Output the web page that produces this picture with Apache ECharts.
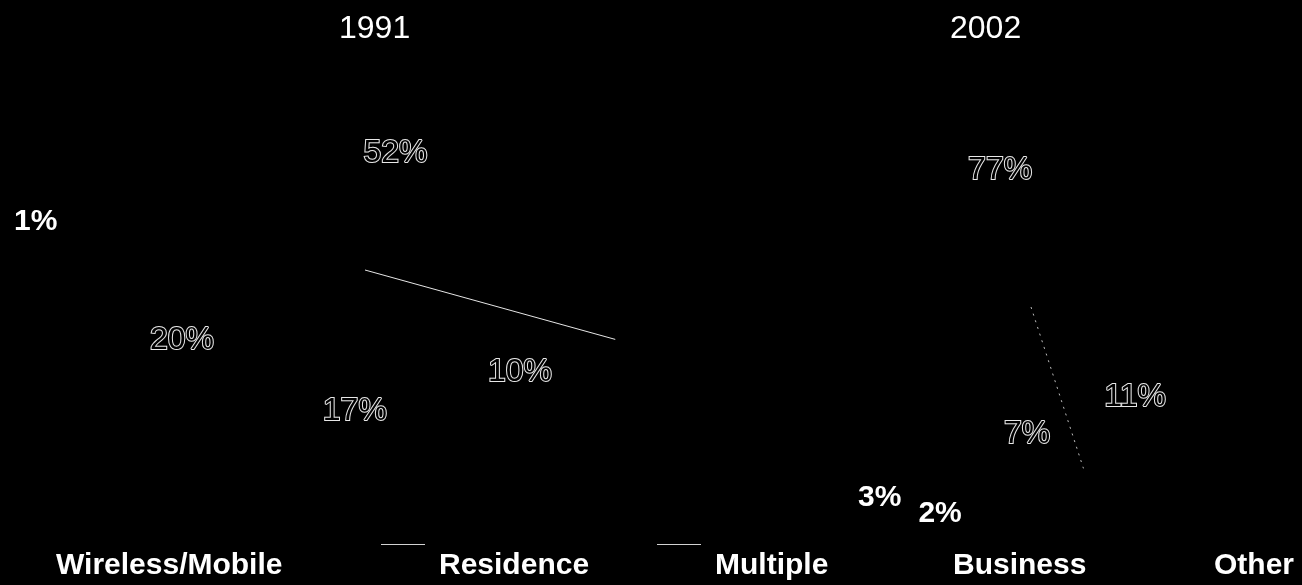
<!DOCTYPE html>
<html>
<head>
<meta charset="utf-8">
<script src="https://cdn.jsdelivr.net/npm/echarts@6/dist/echarts.min.js"></script>
<style>
  html, body { margin: 0; padding: 0; background: #000; }
  #chart { width: 1302px; height: 585px; }
</style>
</head>
<body>
<div id="chart"></div>
<script>
// ---- data ----
const categories = ['Wireless/Mobile', 'Residence', 'Multiple', 'Business', 'Other'];
const years = ['1991', '2002'];
const share1991 = [52, 10, 17, 20, 1];
const share2002 = [77, 11, 7, 2, 3];

// ---- layout & style ----
const FONT = '"Liberation Sans", Arial, sans-serif';
const pieLayout = [
  { values: share1991, center: [365, 270], radius: 260, startAngle: 171.7, titleLeft: 339,
    edgeAfter: 0, edgeStyle: { color: '#e6e6e6', width: 1, type: 'solid' },
    // [distance as fraction of radius, angular shift in degrees] for each label
    labelPlace: [[0.465, 2.7], [0.715, 0], [0.546, 12], [0.754, 10.3], [1.28, 1.8]] },
  { values: share2002, center: [1031, 307], radius: 170, startAngle: 244.8, titleLeft: 950,
    edgeAfter: 1, edgeStyle: { color: '#bdbdbd', width: 1, type: [2, 5] },
    labelPlace: [[0.826, 3.5], [0.81, -11.3], [0.747, 7.2], [1.33, 12.9], [1.43, 18.7]] }
];
const legendLeft = [-2, 381, 657, 895, 1156];
const legendLineIcon = [false, true, true, false, false];
const LINE_ICON = 'path://M0,0H44V1H0Z M52.99,43H53V44H52.99Z';

const outlineLabel = {
  color: '#000', textBorderColor: '#e8e8e8', textBorderWidth: 2,
  fontSize: 32, fontFamily: FONT, fontWeight: 'normal'
};
const boldLabel = {
  color: '#fff', textBorderWidth: 0,
  fontSize: 30, fontFamily: FONT, fontWeight: 'bold'
};

const chart = echarts.init(document.getElementById('chart'), null, { renderer: 'canvas' });

function makeLabelLayout(cfg) {
  const vals = cfg.values;
  const total = vals.reduce((a, b) => a + b, 0);
  const startScreen = 360 - cfg.startAngle; // clockwise from east, y down
  return function (params) {
    const i = params.dataIndex;
    let before = 0;
    for (let k = 0; k < i; k++) before += vals[k];
    const mid = startScreen + (before + vals[i] / 2) / total * 360 + cfg.labelPlace[i][1];
    const d = cfg.labelPlace[i][0] * cfg.radius;
    const a = mid * Math.PI / 180;
    const tx = cfg.center[0] + d * Math.cos(a);
    const ty = cfg.center[1] + d * Math.sin(a);
    const r = params.labelRect;
    return { dx: tx - (r.x + r.width / 2), dy: ty - (r.y + r.height / 2) };
  };
}

const series = [];
const polar = [];
const angleAxis = [];
const radiusAxis = [];
const titles = [];

pieLayout.forEach((cfg, p) => {
  series.push({
    type: 'pie',
    center: cfg.center,
    radius: cfg.radius,
    startAngle: cfg.startAngle,
    clockwise: true,
    avoidLabelOverlap: false,
    animation: false,
    silent: true,
    label: { show: true, position: 'inside', formatter: (q) => q.value + '%' },
    labelLine: { show: false },
    labelLayout: makeLabelLayout(cfg),
    itemStyle: { color: '#000', borderWidth: 0 },
    data: categories.map((name, i) => ({
      name: name,
      value: cfg.values[i],
      itemStyle: { color: '#000' },
      label: cfg.values[i] < 5 ? boldLabel : outlineLabel
    }))
  });

  // slice edge drawn on a polar frame sharing the pie's geometry
  let cum = 0;
  for (let k = 0; k <= cfg.edgeAfter; k++) cum += cfg.values[k];
  polar.push({ center: cfg.center, radius: cfg.radius });
  angleAxis.push({ polarIndex: p, type: 'value', min: 0, max: 100, startAngle: cfg.startAngle,
                   clockwise: true, show: false });
  radiusAxis.push({ polarIndex: p, type: 'value', min: 0, max: 1, show: false });
  series.push({
    type: 'line',
    coordinateSystem: 'polar',
    polarIndex: p,
    symbol: 'none',
    animation: false,
    silent: true,
    lineStyle: cfg.edgeStyle,
    data: [[0, cum], [1, cum]]
  });

  titles.push({
    text: years[p],
    left: cfg.titleLeft,
    top: 13,
    padding: 0,
    textStyle: { color: '#fff', fontSize: 32, fontWeight: 'normal', fontFamily: FONT }
  });
});

const legends = categories.map((name, i) => ({
  left: legendLeft[i],
  top: 544,
  padding: 0,
  itemWidth: 53,
  itemHeight: 44,
  itemGap: 0,
  symbolKeepAspect: false,
  selectedMode: false,
  textStyle: { color: '#fff', fontSize: 30, fontWeight: 'bold', fontFamily: FONT },
  data: [legendLineIcon[i]
    ? { name: name, icon: LINE_ICON, itemStyle: { color: '#d2d2d2', borderWidth: 0 } }
    : { name: name, icon: 'rect', itemStyle: { color: '#000', borderWidth: 0 } }]
}));

chart.setOption({
  backgroundColor: '#000',
  animation: false,
  title: titles,
  legend: legends,
  polar: polar,
  angleAxis: angleAxis,
  radiusAxis: radiusAxis,
  series: series
});
</script>
</body>
</html>
